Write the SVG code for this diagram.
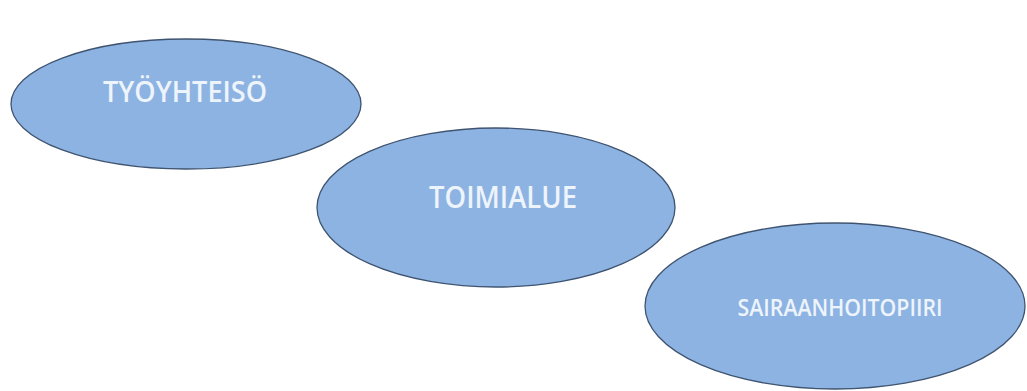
<svg xmlns="http://www.w3.org/2000/svg" width="1027" height="391" viewBox="0 0 1027 391">
<style>
.n ellipse{fill:#8db3e2;stroke:#3f5470;stroke-width:1.3}
.n text{fill:#eef4fb;font-family:"Open Sans","Liberation Sans",sans-serif;font-weight:600;text-anchor:middle}
</style>
<rect width="1027" height="391" fill="#ffffff"/>
<g id="connectors"></g>
<g id="tyoyhteiso" class="n">
<ellipse cx="186" cy="104" rx="175" ry="65"/>
<text x="185" y="102" font-size="29" textLength="164" lengthAdjust="spacingAndGlyphs">TYÖYHTEISÖ</text>
</g>
<g id="toimialue" class="n">
<ellipse cx="496" cy="207.5" rx="179" ry="79.5"/>
<text x="503" y="208" font-size="30" textLength="148" lengthAdjust="spacingAndGlyphs">TOIMIALUE</text>
</g>
<g id="sairaanhoitopiiri" class="n">
<ellipse cx="835" cy="306" rx="190" ry="83"/>
<text x="840" y="316" font-size="24" textLength="205" lengthAdjust="spacingAndGlyphs">SAIRAANHOITOPIIRI</text>
</g>
</svg>
